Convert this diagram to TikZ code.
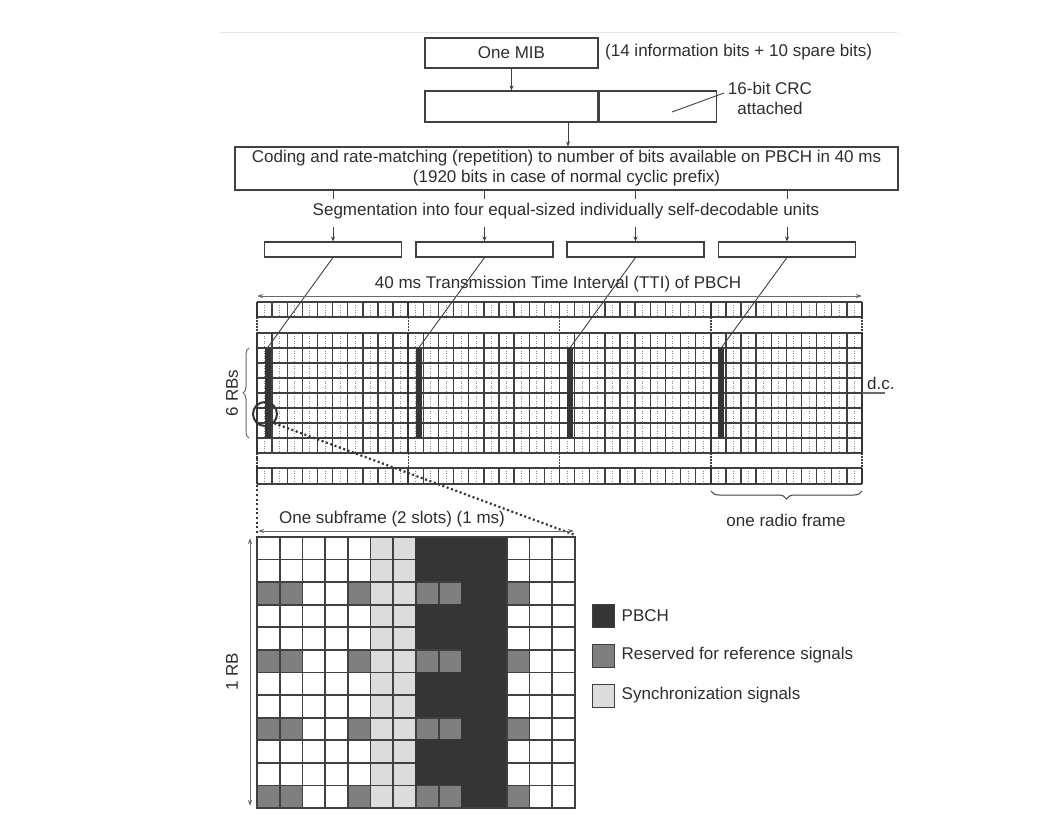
\documentclass[tikz,border=0pt]{standalone}
\usepackage{fontspec}
\setmainfont{Liberation Sans}
\usetikzlibrary{arrows.meta,decorations.pathreplacing}
\definecolor{pbch}{HTML}{353535}
\definecolor{rsg}{HTML}{7F7F7F}
\definecolor{syncg}{HTML}{DCDCDC}
\definecolor{gridc}{HTML}{404040}
\definecolor{txtc}{HTML}{2E2E2E}
\definecolor{dotc}{HTML}{8A8A8A}
\definecolor{arrc}{HTML}{6A6A6A}
\definecolor{pagel}{HTML}{E4E4E4}
\tikzset{
  boxn/.style={draw=gridc, line width=1.1pt, inner sep=0pt},
  lbl/.style={font=\fontsize{17}{20}\selectfont, text=txtc, inner sep=0pt},
  arr/.style={-{Stealth[length=5pt,width=4pt]}, line width=0.8pt, draw=gridc},
  darr/.style={{Stealth[length=6pt,width=4pt]}-{Stealth[length=6pt,width=4pt]}, line width=1pt, draw=arrc},
  thinl/.style={draw=gridc, line width=0.9pt},
  zoomdots/.style={line width=2.2pt, dash pattern=on 2pt off 2.6pt, draw=pbch},
  gsolid/.style={draw=gridc, line width=1.3pt},
  gdot/.style={draw=dotc, line width=1pt, dash pattern=on 1.2pt off 1.3pt},
  rfline/.style={draw=pbch, line width=1.8pt},
  rfdot/.style={draw=gridc, line width=1.5pt, dash pattern=on 1.5pt off 1.5pt},
  barn/.style={fill=pbch, inner sep=0pt, minimum width=6pt, minimum height=90pt},
  legsq/.style={draw=gridc, line width=1pt, minimum width=22pt, minimum height=23pt, inner sep=0pt},
  cellc/.style={draw=gridc, line width=1.8pt},
}
\begin{document}
\begin{tikzpicture}[x=1pt,y=-1pt]
\useasboundingbox (0,0) rectangle (1040,813);
\fill[white] (0,0) rectangle (1040,813);
\draw[pagel, line width=1pt] (220,33) -- (897,33);

% ---------- top chain ----------
\node[boxn, lbl, minimum width=173pt, minimum height=30pt] (mib) at (511.5,53) {One MIB};
\node[lbl, anchor=west] (mibnote) at (605,52) {(14 information bits + 10 spare bits)};
\node[boxn, minimum width=173pt, minimum height=31pt] (crcA) at (511.5,106.5) {};
\node[boxn, minimum width=117pt, minimum height=31pt, anchor=west] (crcB) at (crcA.east) {};
\node[lbl, align=center] (crcnote) at (770,98) {16-bit CRC\\attached};
\coordinate (crclead) at (672,112);
\coordinate (crcleadE) at (724,93);
\draw[thinl] (crclead) -- (crcleadE);
\draw[arr] (mib.south) -- (crcA.north);
\node[boxn, lbl, align=center, minimum width=663pt, minimum height=43pt] (coding) at (566.5,168.5)
  {Coding and rate-matching (repetition) to number of bits available on PBCH in 40 ms\\(1920 bits in case of normal cyclic prefix)};
\coordinate (crcbot) at (568,122);
\draw[arr] (crcbot) -- (crcbot |- coding.north);
\node[lbl] (seg) at (566,211) {Segmentation into four equal-sized individually self-decodable units};

\foreach \k/\cx in {1/333,2/484.5,3/635.5,4/787} {
  \node[boxn, minimum width=137pt, minimum height=15pt] (s\k) at (\cx,249.5) {};
  \draw[thinl] (coding.south -| s\k) -- ++(0,8);
  \coordinate (sa\k) at (\cx,227);
  \draw[arr] (sa\k) -- (s\k.north);
}

% ---------- time grid ----------
\def\sw{15.125}
\foreach \i in {0,...,39} {
  \pgfmathsetmacro\xx{257+(\i+0.5)*\sw}
  \draw[gdot] (\xx,302) -- (\xx,317) (\xx,333) -- (\xx,453) (\xx,468) -- (\xx,484);
}
\foreach \i in {0,...,40} {
  \pgfmathsetmacro\xx{257+\i*\sw}
  \draw[gsolid] (\xx,302) -- (\xx,317) (\xx,333) -- (\xx,453) (\xx,468) -- (\xx,484);
}
\foreach \yy in {302,317,468,484} { \draw[gsolid, line width=1.6pt] (257,\yy) -- (862,\yy); }
\foreach \j in {0,...,8} { \draw[gsolid, line width=1.6pt] (257,333+15*\j) -- (862,333+15*\j); }
\foreach \k in {0,...,4} {
  \pgfmathsetmacro\xx{257+\k*151.25}
  \draw[rfline] (\xx,302) -- (\xx,317) (\xx,333) -- (\xx,453) (\xx,468) -- (\xx,484);
  \draw[rfdot] (\xx,317) -- (\xx,333) (\xx,453) -- (\xx,468);
}
\foreach \k in {1,...,4} {
  \pgfmathsetmacro\xx{267.5+(\k-1)*151.25}
  \node[barn] (b\k) at (\xx,393) {};
  \draw[thinl] (s\k.south) -- (b\k.north);
}
\coordinate (ttiL) at (257,296);
\coordinate (ttiR) at (862,296);
\draw[darr] (ttiL) -- (ttiR);
\node[lbl] (tti) at (558,284) {40 ms Transmission Time Interval (TTI) of PBCH};

% d.c.
\coordinate (dcA) at (862,393);
\coordinate (dcB) at (885,393);
\draw[draw=arrc, line width=1.2pt] (dcA) -- (dcB);
\node[lbl, anchor=south west] (dc) at (867,390) {d.c.};

% 6 RBs brace
\coordinate (brT) at (249,348);
\coordinate (brB) at (249,438);
\draw[draw=arrc, line width=1pt, decorate, decoration={brace, amplitude=6pt}] (brB) -- (brT);
\node[lbl, rotate=90] (rb6) at (232,393) {6 RBs};

% radio frame brace
\coordinate (rfR) at (862,491);
\coordinate (rfL) at (711,491);
\draw[draw=gridc, line width=1pt, decorate, decoration={brace, amplitude=8pt}] (rfR) -- (rfL);
\node[lbl] (rfl) at (786,520) {one radio frame};

% circle and zoom lines
\node[draw=pbch, line width=2pt, circle, minimum size=24pt, inner sep=0pt] (circ) at (265,414) {};
\coordinate (zBL) at (257,425);
\coordinate (zTL) at (257,535);
\coordinate (zTR) at (575,535);
\draw[zoomdots] (zBL) -- (zTL);
\draw[zoomdots] (circ.south east) -- (zTR);

% ---------- subframe detail ----------
\def\cw{22.714}
\def\ch{22.583}
\node[lbl] (sfl) at (392,519) {One subframe (2 slots) (1 ms)};
\coordinate (sfL) at (258,531);
\coordinate (sfR) at (574,531);
\draw[darr] (sfL) -- (sfR);

\foreach \c in {0,...,13} {
  \foreach \r in {0,...,11} {
    \pgfmathsetmacro\xx{257+\c*\cw}
    \pgfmathsetmacro\yy{537+\r*\ch}
    \pgfmathtruncatemacro\isrs{(mod(\r,3)==2) && (\c==0 || \c==1 || \c==4 || \c==7 || \c==8 || \c==11)}
    \pgfmathtruncatemacro\issync{(\c==5 || \c==6)}
    \pgfmathtruncatemacro\ispb{(\c>=7 && \c<=10)}
    \ifnum\isrs=1
      \filldraw[cellc, fill=rsg] (\xx,\yy) rectangle ++(\cw,\ch);
    \else\ifnum\issync=1
      \filldraw[cellc, fill=syncg] (\xx,\yy) rectangle ++(\cw,\ch);
    \else\ifnum\ispb=1
      \filldraw[draw=pbch, line width=1.8pt, fill=pbch] (\xx,\yy) rectangle ++(\cw,\ch);
    \else
      \filldraw[cellc, fill=white] (\xx,\yy) rectangle ++(\cw,\ch);
    \fi\fi\fi
  }
}
\draw[gridc, line width=2.4pt] (257,537) rectangle (575,808);

\coordinate (rbT) at (250,538);
\coordinate (rbB) at (250,806);
\draw[darr] (rbT) -- (rbB);
\node[lbl, rotate=90] (rb1) at (232,672) {1 RB};

% legend
\node[legsq, fill=pbch] (l1) at (603,615.5) {};
\node[lbl, anchor=west] at ([xshift=7pt]l1.east) {PBCH};
\node[legsq, fill=rsg] (l2) at (603,655.5) {};
\node[lbl, anchor=west] at ([xshift=7pt]l2.east) {Reserved for reference signals};
\node[legsq, fill=syncg] (l3) at (603,695.5) {};
\node[lbl, anchor=west] at ([xshift=7pt]l3.east) {Synchronization signals};
\end{tikzpicture}
\end{document}
